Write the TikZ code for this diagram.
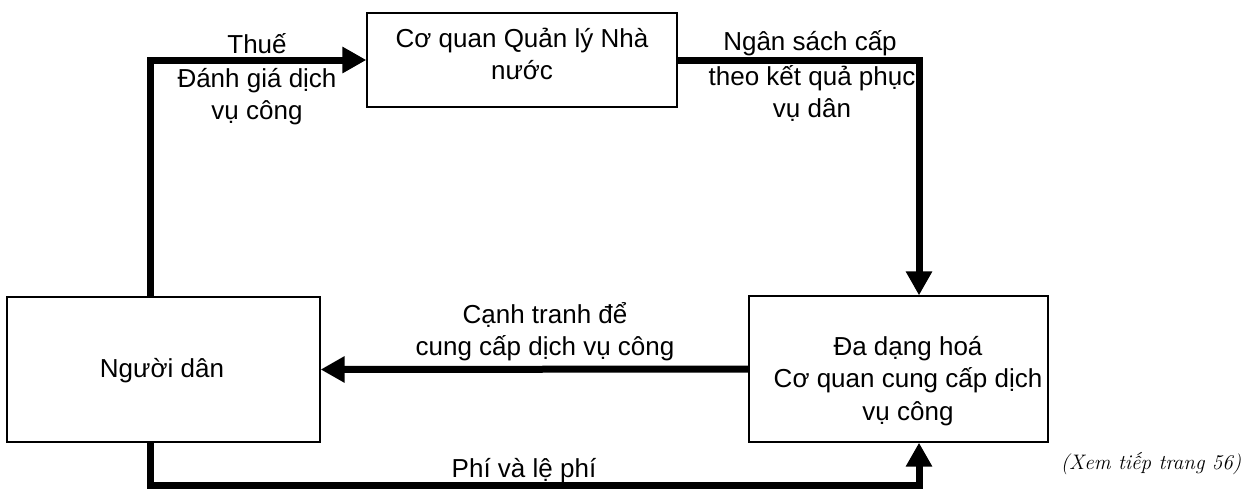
\documentclass[tikz,border=0pt]{standalone}
\usepackage{fontspec}
\setmainfont{Liberation Sans}
\newfontfamily\notefont{Latin Modern Roman}
\usetikzlibrary{arrows.meta}
\newcommand{\stack}[1]{\begin{tabular}[t]{@{}c@{}}#1\end{tabular}}
\begin{document}
\begin{tikzpicture}[x=1pt,y=-1pt,
  box/.style={draw,line width=1.3pt,inner sep=0pt},
  flow/.style={line width=7pt,line join=miter,-{Triangle[length=24pt,width=25pt]}},
  lbl/.style={anchor=base,inner sep=0pt,font=\fontsize{26}{32.5}\selectfont},
  note/.style={anchor=base,inner sep=0pt,font=\notefont\itshape\fontsize{21}{26}\selectfont}]
\useasboundingbox (0,0) rectangle (1246,488);
% boxes
\node[box,minimum width=310pt,minimum height=94pt] (state) at (522,60) {};
\node[box,minimum width=313pt,minimum height=145pt] (people) at (163.5,369.5) {};
\node[box,minimum width=299pt,minimum height=146pt] (provider) at (898.5,369) {};
% box texts
\node[lbl] (stateT) at (522,47) {\stack{Cơ quan Quản lý Nhà\\nước}};
\node[lbl] (peopleT) at (162,377) {Người dân};
\node[lbl] (providerT) at (908,355) {\stack{Đa dạng hoá\\Cơ quan cung cấp dịch\\vụ công}};
% routing points of the thick connectors
\coordinate (cl) at (150,0);
\coordinate (cr) at (919,0);
\coordinate (cb) at (0,485);
% connectors
\draw[flow] (people.north -| cl) |- (state.west);
\draw[flow] (state.east) -| (provider.north -| cr);
\draw[flow] (provider.west) -- (people.east);
\draw[flow] (people.south -| cl) -- (cl |- cb) -- (cr |- cb) -- (provider.south -| cr);
% connector labels
\node[lbl] (tax) at (257,53) {Thuế};
\node[lbl] (eval) at (257,87) {\stack{Đánh giá dịch\\vụ công}};
\node[lbl] (budget) at (810,50) {\stack{Ngân sách cấp}};
\node[lbl] (budget2) at (812,85) {\stack{theo kết quả phục\\vụ dân}};
\node[lbl] (compete) at (545,323) {\stack{Cạnh tranh để\\cung cấp dịch vụ công}};
\node[lbl] (fees) at (524,477) {Phí và lệ phí};
\node[note] (cont) at (1151,469) {(Xem tiếp trang 56)};
\end{tikzpicture}
\end{document}
